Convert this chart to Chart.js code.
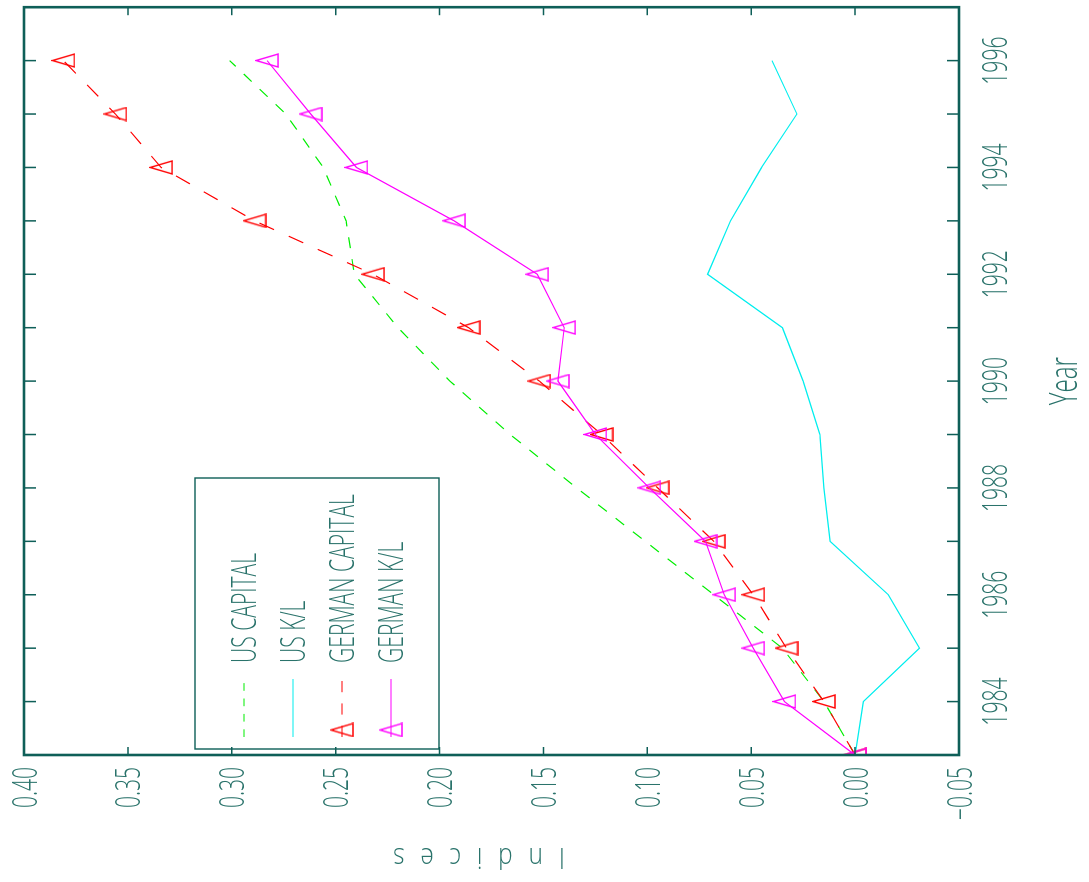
<!DOCTYPE html>
<html>
<head>
<meta charset="utf-8">
<script src="https://cdn.jsdelivr.net/npm/chart.js@4/dist/chart.umd.min.js"></script>
<style>
  html, body { margin: 0; padding: 0; background: #fff; overflow: hidden; }
  body { width: 1089px; height: 882px; position: relative; }
  /* the chart is drawn upright and the whole page is turned a quarter to the left */
  #wrap {
    position: absolute; left: 0; top: 0;
    width: 882px; height: 1089px;
    transform-origin: 0 0;
    transform: translate(0, 882px) rotate(-90deg);
  }
</style>
</head>
<body>
<div id="wrap"><canvas id="chart" width="882" height="1089"></canvas></div>
<script>
const years = [1983, 1984, 1985, 1986, 1987, 1988, 1989, 1990, 1991, 1992, 1993, 1994, 1995, 1996];
const usCapital = [0, 0.015, 0.035, 0.068, 0.101, 0.134, 0.166, 0.195, 0.220, 0.241, 0.245, 0.256, 0.274, 0.301];
const usKL = [0, -0.004, -0.031, -0.016, 0.012, 0.015, 0.017, 0.025, 0.035, 0.071, 0.060, 0.045, 0.028, 0.040];
const germanCapital = [0, 0.015, 0.033, 0.049, 0.068, 0.095, 0.122, 0.152, 0.186, 0.232, 0.289, 0.334, 0.356, 0.381];
const germanKL = [0, 0.034, 0.049, 0.063, 0.072, 0.099, 0.125, 0.143, 0.140, 0.153, 0.193, 0.240, 0.262, 0.283];

const yearLabels = ['1984', '1986', '1988', '1990', '1992', '1994', '1996'];
const indexTicks = [-0.05, 0, 0.05, 0.10, 0.15, 0.20, 0.25, 0.30, 0.35, 0.40];
const indexLabels = ['\u22120.05', '0.00', '0.05', '0.10', '0.15', '0.20', '0.25', '0.30', '0.35', '0.40'];

const FRAME = '#0e5f58';
const TEXT = '#2a736b';
const FONT = '"Open Sans", "Roboto", "Liberation Sans", sans-serif';
const SQUEEZE = 0.62;

function triangleMarker(color) {
  const c = document.createElement('canvas');
  c.width = 15;
  c.height = 24;
  const g = c.getContext('2d');
  g.strokeStyle = color;
  g.lineWidth = 1.4;
  g.beginPath();
  g.moveTo(7.5, 1);
  g.lineTo(14, 23);
  g.lineTo(1, 23);
  g.closePath();
  g.stroke();
  return c;
}

function pts(values) {
  return years.map((yr, i) => ({ x: yr, y: values[i] }));
}

// narrow plotter-like lettering
function squeezed(ctx, text, x, y, align, size) {
  ctx.save();
  ctx.font = `300 ${size}px ${FONT}`;
  ctx.textAlign = align;
  ctx.textBaseline = 'alphabetic';
  ctx.translate(x, y);
  ctx.scale(SQUEEZE, 1);
  ctx.fillText(text, 0, 0);
  ctx.restore();
}

const framePlugin = {
  id: 'frame',
  afterDatasetsDraw(chart) {
    const { ctx, chartArea: a, scales: { x, y } } = chart;
    ctx.save();
    ctx.strokeStyle = FRAME;
    ctx.lineWidth = 1.5;
    ctx.beginPath();
    x.ticks.forEach((t) => {
      const px = x.getPixelForValue(t.value);
      ctx.moveTo(px, a.bottom); ctx.lineTo(px, a.bottom - 12);
      ctx.moveTo(px, a.top); ctx.lineTo(px, a.top + 12);
    });
    y.ticks.forEach((t) => {
      const py = y.getPixelForValue(t.value);
      ctx.moveTo(a.left, py); ctx.lineTo(a.left + 8, py);
      ctx.moveTo(a.right, py); ctx.lineTo(a.right - 8, py);
    });
    ctx.stroke();
    ctx.lineWidth = 2.6;
    ctx.strokeRect(a.left, a.top, a.right - a.left, a.bottom - a.top);
    ctx.restore();
  },
};

const labelPlugin = {
  id: 'labels',
  afterDraw(chart) {
    const { ctx, chartArea: a, scales: { x, y } } = chart;
    ctx.save();
    ctx.fillStyle = TEXT;
    x.ticks.forEach((t) => {
      if (t.label) squeezed(ctx, t.label, x.getPixelForValue(t.value), 1007, 'center', 34);
    });
    y.ticks.forEach((t) => {
      if (t.label) squeezed(ctx, t.label, 115, y.getPixelForValue(t.value) + 12.5, 'right', 34);
    });
    squeezed(ctx, 'Year', (a.left + a.right) / 2, 1077, 'center', 39);

    // spaced-out vertical axis title
    const title = 'Indices';
    const tsq = 0.85;
    ctx.font = `300 29px ${FONT}`;
    const widths = [...title].map((ch) => ctx.measureText(ch).width * tsq);
    const gap = (172 - widths.reduce((s, w) => s + w, 0)) / (title.length - 1);
    ctx.translate(34, 565);
    ctx.rotate(-Math.PI / 2);
    let pos = 0;
    [...title].forEach((ch, i) => {
      ctx.save();
      ctx.translate(pos, 0);
      ctx.scale(tsq, 1);
      ctx.textAlign = 'left';
      ctx.fillText(ch, 0, 0);
      ctx.restore();
      pos += widths[i] + gap;
    });
    ctx.restore();

    // legend box
    ctx.save();
    ctx.strokeStyle = FRAME;
    ctx.lineWidth = 1.4;
    ctx.strokeRect(133, 195, 271, 244);
    chart.data.datasets.forEach((ds, i) => {
      const ry = 244 + i * 49;
      ctx.strokeStyle = ds.borderColor;
      ctx.lineWidth = ds.borderWidth;
      ctx.setLineDash(ds.borderDash ? ds.borderDash.map((d) => d * 0.7) : []);
      ctx.beginPath();
      ctx.moveTo(145, ry);
      ctx.lineTo(203, ry);
      ctx.stroke();
      ctx.setLineDash([]);
      if (ds.pointStyle && typeof ds.pointStyle === 'object') {
        const m = ds.pointStyle;
        ctx.drawImage(m, 152 - m.width / 2, ry - m.height / 2);
      }
      ctx.fillStyle = TEXT;
      squeezed(ctx, ds.label, 219, ry + 12, 'left', 34);
    });
    ctx.restore();
  },
};

new Chart(document.getElementById('chart'), {
  type: 'line',
  data: {
    datasets: [
      {
        label: 'US CAPITAL',
        data: pts(usCapital),
        borderColor: '#00ee00',
        borderWidth: 1.2,
        borderDash: [11, 11],
        pointRadius: 0,
        order: 4,
      },
      {
        label: 'US K/L',
        data: pts(usKL),
        borderColor: '#00eeee',
        borderWidth: 1.2,
        pointRadius: 0,
        order: 3,
      },
      {
        label: 'GERMAN CAPITAL',
        data: pts(germanCapital),
        borderColor: '#ff0000',
        borderWidth: 1.2,
        borderDash: [16, 16],
        pointStyle: triangleMarker('#ff0000'),
        pointRadius: 6,
        order: 2,
      },
      {
        label: 'GERMAN K/L',
        data: pts(germanKL),
        borderColor: '#ff00ff',
        borderWidth: 1.2,
        pointStyle: triangleMarker('#ff00ff'),
        pointRadius: 6,
        order: 1,
      },
    ],
  },
  options: {
    responsive: false,
    animation: false,
    devicePixelRatio: 1,
    layout: { padding: { top: 24, right: 1, left: 0, bottom: 0 } },
    plugins: {
      legend: { display: false },
      tooltip: { enabled: false },
    },
    scales: {
      x: {
        type: 'linear',
        min: 1983,
        max: 1997,
        grid: { display: false },
        border: { display: false },
        ticks: {
          display: false,
          stepSize: 1,
          callback(value) {
            return yearLabels.includes(String(value)) ? String(value) : '';
          },
        },
        afterFit(scale) {
          scale.height = 130;
        },
      },
      y: {
        type: 'linear',
        min: -0.05,
        max: 0.40,
        grid: { display: false },
        border: { display: false },
        ticks: {
          display: false,
          stepSize: 0.05,
          callback(value) {
            const i = indexTicks.findIndex((t) => Math.abs(t - value) < 1e-9);
            return i >= 0 ? indexLabels[i] : '';
          },
        },
        afterFit(scale) {
          scale.width = 127;
        },
      },
    },
  },
  plugins: [framePlugin, labelPlugin],
});
</script>
</body>
</html>
